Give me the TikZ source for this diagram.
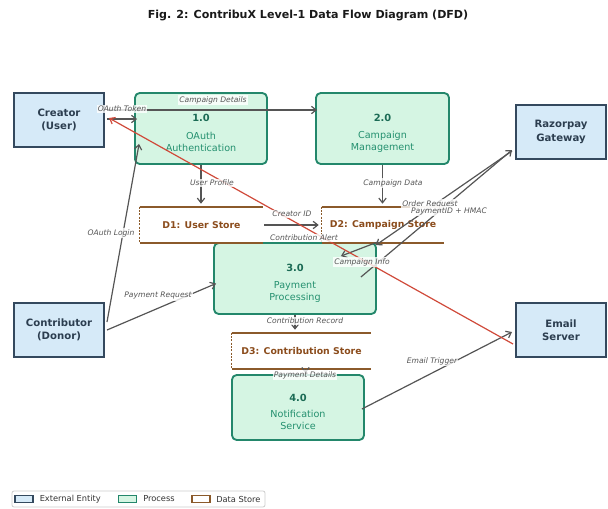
\documentclass[tikz,border=0pt]{standalone}
\usepackage{fontspec}
\setmainfont{DejaVu Sans}
\usetikzlibrary{arrows.meta,calc}
\definecolor{extfill}{HTML}{D6EAF8}
\definecolor{extline}{HTML}{34495E}
\definecolor{exttext}{HTML}{2C3E50}
\definecolor{procfill}{HTML}{D5F5E3}
\definecolor{procline}{HTML}{23876B}
\definecolor{procnum}{HTML}{1B6B55}
\definecolor{proctext}{HTML}{24906F}
\definecolor{storeline}{HTML}{8B5A2B}
\definecolor{storetext}{HTML}{8B4C1C}
\definecolor{flowgray}{HTML}{555555}
\definecolor{alertred}{HTML}{D04A3A}
\definecolor{legframe}{HTML}{CCCCCC}
\begin{document}
\begin{tikzpicture}[x=0.75pt,y=-0.75pt,
  ext/.style={draw=extline, fill=extfill, line width=1.5pt, minimum width=67.5pt, minimum height=40.5pt, inner sep=0pt, align=center, text=exttext, font=\fontsize{7.6}{10}\selectfont\bfseries},
  proc/.style={draw=procline, fill=procfill, line width=1.4pt, rounded corners=3.5pt, inner sep=0pt},
  pnum/.style={inner sep=0pt, text=procnum, font=\fontsize{7.4}{9}\selectfont\bfseries},
  pname/.style={inner sep=0pt, align=center, text=proctext, font=\fontsize{7.2}{9}\selectfont},
  store/.style={inner sep=0pt, minimum height=27pt, text=storetext, font=\fontsize{7}{9}\selectfont\bfseries},
  sline/.style={draw=storeline, line width=1.4pt},
  sdash/.style={draw=storeline, line width=0.6pt, dashed, dash pattern=on 1.5pt off 1pt},
  flow/.style={draw=flowgray, line width=0.9pt, -{Straight Barb[length=3.5pt,width=5.5pt]}},
  alert/.style={draw=alertred, line width=0.9pt, -{Straight Barb[length=3.5pt,width=5.5pt]}},
  lbl/.style={inner sep=0.8pt, fill=white, fill opacity=0.8, text opacity=1, text=flowgray, font=\fontsize{5.7}{6}\selectfont\itshape},
  legtext/.style={inner sep=0pt, anchor=west, text=black!80, font=\fontsize{6.2}{7}\selectfont},
  titlestyle/.style={inner sep=0pt, text=black!90, font=\fontsize{8.3}{10}\selectfont\bfseries}
]
\useasboundingbox (0,0) rectangle (608,508);

\node[titlestyle] (title) at (308,15) {Fig. 2: ContribuX Level-1 Data Flow Diagram (DFD)};

% external entities
\node[ext] (creator) at (59,120) {Creator\\(User)};
\node[ext] (contrib) at (59,330) {Contributor\\(Donor)};
\node[ext] (razor) at (561,132) {Razorpay\\Gateway};
\node[ext] (email) at (561,330) {Email\\Server};

% processes
\node[proc, minimum width=99pt, minimum height=53.25pt] (p1) at (201,128.5) {};
\node[pnum] (p1n) at (201,118) {1.0};
\node[pname] (p1l) at (201,142) {OAuth\\Authentication};
\node[proc, minimum width=99.75pt, minimum height=53.25pt] (p2) at (382.5,128.5) {};
\node[pnum] (p2n) at (382.5,118) {2.0};
\node[pname] (p2l) at (382.5,142) {Campaign\\Management};
\node[proc, minimum width=121.5pt, minimum height=53.25pt] (p3) at (295,278.5) {};
\node[pnum] (p3n) at (295,268) {3.0};
\node[pname] (p3l) at (295,292) {Payment\\Processing};
\node[proc, minimum width=99pt, minimum height=48.75pt] (p4) at (298,407.5) {};
\node[pnum] (p4n) at (298,398) {4.0};
\node[pname] (p4l) at (298,420) {Notification\\Service};

% data stores
\node[store, minimum width=92.25pt] (d1) at (201.5,225) {D1: User Store};
\node[store, minimum width=91.5pt] (d2) at (383,225) {D2: Campaign Store};
\node[store, minimum width=104.25pt] (d3) at (301.5,351) {D3: Contribution Store};
\foreach \s in {d1,d2,d3}{
  \draw[sline] (\s.north west) -- (\s.north east);
  \draw[sline] (\s.south west) -- (\s.south east);
  \draw[sdash] (\s.north west) -- (\s.south west);
}

% flows
\draw[flow] ($(creator.east)+(2,-10)$) -- ($(p2.west)+(2,-18.5)$);
\draw[flow] ($(creator.east)+(2,-1)$) -- ($(p1.west)+(3,-9.5)$);
\draw[flow] (p1.south) -- ($(p1.south |- d1.north)+(0,-3)$);
\draw[flow] (p2.south) -- ($(p2.south |- d2.north)+(0,-3)$);
\draw[flow] ($(d1.east)+(1,0)$) -- ($(d2.west)+(-3,0)$);
\draw[flow] ($(contrib.east)+(2,-8)$) -- ($(p1.south west)+(5,-21)$);
\draw[flow] ($(contrib.east)+(2,0)$) -- ($(p3.west)+(3,5)$);
\draw[flow] (p3.south) -- ($(p3.south |- d3.north)+(0,-3)$);
\draw[flow] ($(d3.south)+(4,0)$) -- ($(d3.south |- p4.north)+(4,-1)$);
\draw[flow] ($(p4.east)+(-3,1.5)$) -- ($(email.west)+(-3,2)$);
\draw[flow] ($(p3.east)+(-16,-1.5)$) -- ($(razor.south west)+(-3,-10)$);
\draw[flow] ($(razor.south west)+(-3,-9)$) -- ($(p3.north east)+(-1,3)$);
\draw[flow] ($(d2.south)+(-6,-1)$) -- ($(p3.north east)+(-36,14)$);
\draw[alert] ($(email.west)+(-2,14)$) -- ($(creator.east)+(4,-2)$);

% labels
\node[lbl] (lt1) at (122,109) {OAuth Token};
\node[lbl] (lt2) at (213,100) {Campaign Details};
\node[lbl] (lt3) at (212,183) {User Profile};
\node[lbl] (lt4) at (393,183) {Campaign Data};
\node[lbl] (lt5) at (292,214) {Creator ID};
\node[lbl] (lt6) at (111,233) {OAuth Login};
\node[lbl] (lt7) at (158,296) {Payment Request};
\node[lbl] (lt8) at (305,321) {Contribution Record};
\node[lbl] (lt9) at (305,375) {Payment Details};
\node[lbl] (lt10) at (432,361) {Email Trigger};
\node[lbl] (lt11) at (430,204) {Order Request};
\node[lbl] (lt12) at (449,211) {PaymentID + HMAC};
\node[lbl] (lt13) at (362,262) {Campaign Info};
\node[lbl] (lt14) at (304,238) {Contribution Alert};

% legend
\node[draw=legframe, fill=white, line width=0.6pt, rounded corners=1.5pt, minimum width=189.75pt, minimum height=12pt, inner sep=0pt] (legend) at (138.5,499) {};
\node[draw=extline, fill=extfill, line width=0.8pt, minimum width=13.5pt, minimum height=5.25pt, inner sep=0pt] (lg1) at (24,499) {};
\node[legtext] (lgt1) at (39.5,499) {External Entity};
\node[draw=procline, fill=procfill, line width=0.8pt, minimum width=13.5pt, minimum height=5.25pt, inner sep=0pt] (lg2) at (127.5,499) {};
\node[legtext] (lgt2) at (143,499) {Process};
\node[draw=storeline, fill=white, line width=0.8pt, minimum width=13.5pt, minimum height=5.25pt, inner sep=0pt] (lg3) at (201,499) {};
\node[legtext] (lgt3) at (216,499) {Data Store};
\end{tikzpicture}
\end{document}
